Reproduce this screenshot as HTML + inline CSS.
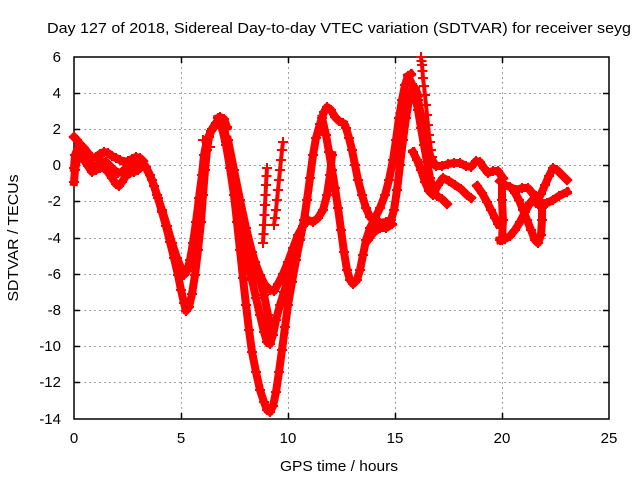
<!DOCTYPE html>
<html>
<head>
<meta charset="utf-8">
<style>
html,body{margin:0;padding:0;background:#fff;}
svg{display:block;}
text{font-family:"Liberation Sans",Arial,sans-serif;fill:#000;}
</style>
</head>
<body>
<svg width="640" height="480" viewBox="0 0 640 480" xmlns="http://www.w3.org/2000/svg">
<defs>
<marker id="p" markerWidth="10" markerHeight="10" refX="5" refY="5" markerUnits="userSpaceOnUse" overflow="visible">
<path d="M0 5H10M5 0V10" stroke="#ff0000" stroke-width="2" fill="none"/>
</marker>
</defs>
<rect width="640" height="480" fill="#fff"/>
<!-- grid -->
<g stroke="#a0a0a0" stroke-width="1" stroke-dasharray="2,3" fill="none">
<line x1="74" y1="93.5" x2="609" y2="93.5"/>
<line x1="74" y1="129.5" x2="609" y2="129.5"/>
<line x1="74" y1="165.5" x2="609" y2="165.5"/>
<line x1="74" y1="201.5" x2="609" y2="201.5"/>
<line x1="74" y1="238.5" x2="609" y2="238.5"/>
<line x1="74" y1="274.5" x2="609" y2="274.5"/>
<line x1="74" y1="310.5" x2="609" y2="310.5"/>
<line x1="74" y1="346.5" x2="609" y2="346.5"/>
<line x1="74" y1="382.5" x2="609" y2="382.5"/>
<line x1="181.5" y1="57" x2="181.5" y2="419"/>
<line x1="288.5" y1="57" x2="288.5" y2="419"/>
<line x1="395.5" y1="57" x2="395.5" y2="419"/>
<line x1="502.5" y1="57" x2="502.5" y2="419"/>
</g>
<!-- border and ticks -->
<g stroke="#000" stroke-width="1.5" fill="none">
<rect x="74" y="57" width="535" height="362"/>
<path d="M74 93.5h6M74 129.5h6M74 165.5h6M74 201.5h6M74 238.5h6M74 274.5h6M74 310.5h6M74 346.5h6M74 382.5h6
M609 93.5h-6M609 129.5h-6M609 165.5h-6M609 201.5h-6M609 238.5h-6M609 274.5h-6M609 310.5h-6M609 346.5h-6M609 382.5h-6
M181.5 419v-6M288.5 419v-6M395.5 419v-6M502.5 419v-6
M181.5 57v6M288.5 57v6M395.5 57v6M502.5 57v6"/>
</g>
<!-- data -->
<g stroke="#ff0000" stroke-width="8" fill="none" stroke-linejoin="round" stroke-linecap="square" marker-start="url(#p)" marker-mid="url(#p)" marker-end="url(#p)">
<polyline points="74,137 77,140 80,144 84,148 88,153 92,158 96,157 100,154 104,152 108,153 112,156 116,158 120,160 124,162 128,161 132,159 136,157 140,158 143,161"/>
<polyline points="74,182 75,170 77,160 80,156 84,160 88,166 92,172 96,170 100,168 104,168 108,172 112,178 116,184 119,186 122,182 126,176 130,173 134,172 138,170 142,166"/>
<polyline points="74,168 75,155 78,148 82,150 86,156 90,163 94,168 98,164 102,161 106,162 110,166 114,170 118,173 122,172 126,168 130,165 134,163 138,162 142,162"/>
<polyline points="142,162 146,167 150,175 154,186 158,198 162,212 166,226 170,242 174,258 178,275 181,290 184,303 186,311 189,307 192,294 195,275 198,250 201,222 203,195 205,170 207,150 209,137 212,129 216,123 220,117 224,119 227,127"/>
<polyline points="146,168 152,180 157,195 162,210 167,226 172,243 177,258 181,268 184,275 187,271 190,260 193,243 196,222 199,198 202,175 204,155 207,140 211,131 215,126"/>
<polyline points="218,118 222,128 226,145 230,168 234,195 237,222 240,250 243,278 246,305 249,330 252,352 256,372 260,390 264,402 267,410 270,412 273,406 276,392 279,372 282,350 285,327 288,305 292,282 296,260 300,240 304,220 307,200 310,178 313,155 316,138 320,124 324,112 327,107 331,110 335,117 339,121 343,123"/>
<polyline points="221,125 226,142 231,165 236,192 240,218 244,242 248,262 252,280 256,298 260,315 264,332 267,342 270,344 273,335 276,320 280,305 284,292 288,280 292,268 296,256"/>
<polyline points="224,128 230,155 235,180 240,205 245,228 250,248 255,262 260,275 265,285 270,290 274,291 278,284 283,274 288,262 293,248 298,235 303,226 308,220 313,222 318,218 323,210 327,195 330,175 332,155"/>
<polyline points="228,140 234,170 240,200 246,228 252,252 258,272 264,295 268,315 271,330"/>
<polyline points="322,118 326,135 329,152 332,170 335,188 338,208 341,230 344,252 347,270 350,280 353,284 357,280 360,270 363,255 366,240 370,228 375,218 380,208 385,195 389,180 393,160 396,140 399,118 402,100 405,85 408,76 411,74"/>
<polyline points="346,128 349,138 352,150 355,165 358,180 362,195 366,208 370,217 375,222 380,223 386,222 391,220 394,210 397,190 400,165 403,140 406,118 409,100 412,90 415,88 418,95"/>
<polyline points="368,240 374,232 380,228 386,228 392,224"/>
<polyline points="408,76 412,84 415,95 418,110 421,128 424,145 427,162 430,178 433,190 437,196 442,199 447,204"/>
<polyline points="414,88 418,100 421,115 424,130 427,145 431,158 436,166 442,166 448,164 454,163 460,163 466,166 471,167 476,161 480,162 484,168 488,173 493,171 498,171 503,178"/>
<polyline points="413,152 417,160 421,170 425,182 429,191 433,195 438,185 443,178 449,181 455,185 461,189 467,195 471,198"/>
<polyline points="477,186 482,193 487,202 491,210 495,218 498,224"/>
<polyline points="500,181 505,185 510,187 516,190 522,188 528,188 534,195 540,203 547,203 553,200 559,196 567,192"/>
<polyline points="500,240 505,239 510,236 515,230 520,222 525,212 530,203 536,196"/>
<polyline points="515,193 519,200 523,210 527,220 531,230 535,240 538,243 541,235 542,220 542,208"/>
<polyline points="536,203 541,194 545,185 549,176 553,168 557,170 561,174 565,178 567,180"/>
<polyline points="502,183 502,200 503,220 502,240"/>
</g>
<g stroke="#ff0000" stroke-width="4" fill="none" stroke-linejoin="round" marker-start="url(#p)" marker-mid="url(#p)" marker-end="url(#p)">
<polyline points="263,243 263.5,234 264,225 264.5,215 265,205 265.5,195 266,185 266.5,176 267,168"/>
<polyline points="274,225 275,218 276,210 277,200 278,190 279,180 280,170 281,160 282,150 283,142"/>
<polyline points="421,57 421.5,61 422,65 422.5,71 423,78 424,86 425,95 426,105 427,115 428,125 429,135 430,142 431,150 432,157 433,163"/>
<polyline points="203,140 206,150 210,147"/>
</g>
<!-- title -->
<text x="47" y="33" font-size="15" textLength="584" lengthAdjust="spacingAndGlyphs">Day 127 of 2018, Sidereal Day-to-day VTEC variation (SDTVAR) for receiver seyg</text>
<!-- y tick labels -->
<g font-size="15" text-anchor="end">
<text x="61" y="62">6</text>
<text x="61" y="98">4</text>
<text x="61" y="134">2</text>
<text x="61" y="170">0</text>
<text x="61" y="206">-2</text>
<text x="61" y="243">-4</text>
<text x="61" y="279">-6</text>
<text x="61" y="315">-8</text>
<text x="61" y="351">-10</text>
<text x="61" y="387">-12</text>
<text x="61" y="424">-14</text>
</g>
<!-- x tick labels -->
<g font-size="15" text-anchor="middle">
<text x="74" y="443">0</text>
<text x="181" y="443">5</text>
<text x="288" y="443">10</text>
<text x="395" y="443">15</text>
<text x="502" y="443">20</text>
<text x="609" y="443">25</text>
</g>
<text x="339" y="471" font-size="15" text-anchor="middle" textLength="118" lengthAdjust="spacingAndGlyphs">GPS time / hours</text>
<text transform="translate(18,238) rotate(-90)" font-size="15" text-anchor="middle" textLength="127" lengthAdjust="spacingAndGlyphs">SDTVAR / TECUs</text>
</svg>
</body>
</html>
